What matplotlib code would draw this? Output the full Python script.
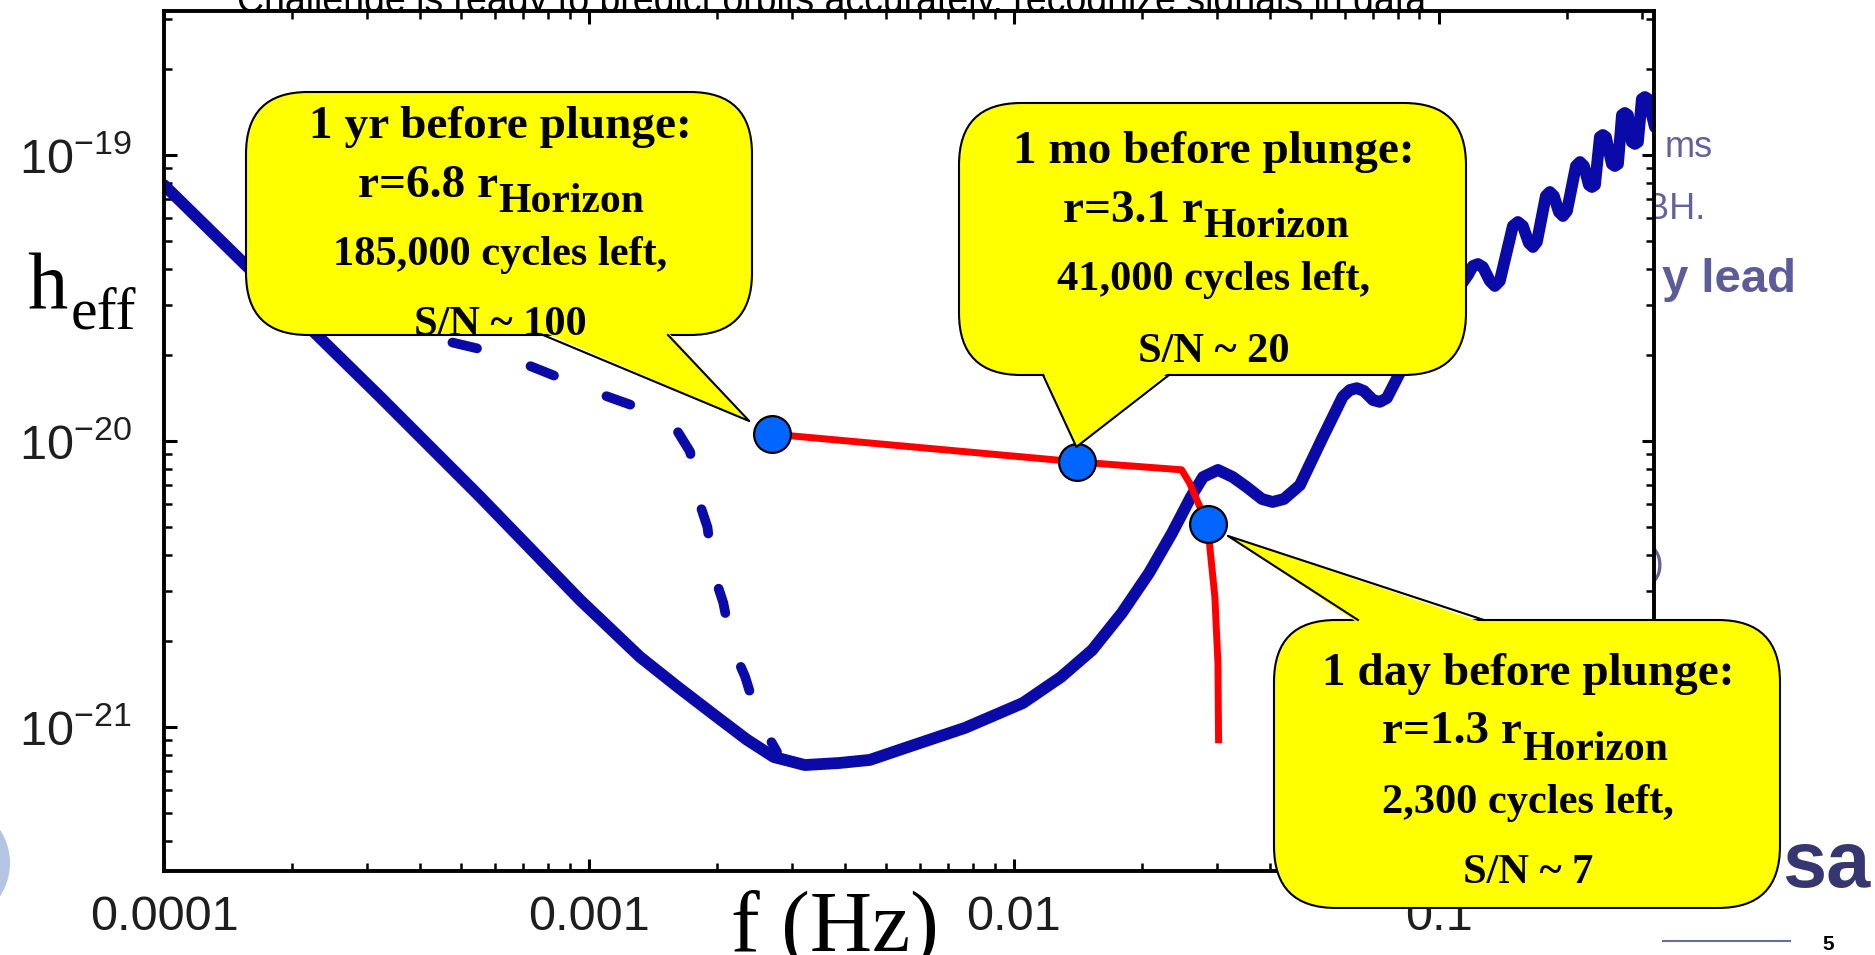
import matplotlib
matplotlib.use("Agg")
import matplotlib.pyplot as plt
from matplotlib.patches import FancyBboxPatch, Polygon, Ellipse
from matplotlib.ticker import NullFormatter

plt.rcParams['font.family'] = 'Liberation Sans'
plt.rcParams['mathtext.fontset'] = 'custom'
plt.rcParams['mathtext.rm'] = 'Liberation Sans'
plt.rcParams['mathtext.it'] = 'Liberation Sans:italic'
plt.rcParams['mathtext.bf'] = 'Liberation Sans:bold'

# LISA sensitivity curve (solid)
noise_f = [1.00e-4, 3.22e-4, 5.55e-4, 9.53e-4, 1.318e-3, 1.618e-3, 2.000e-3, 2.355e-3,
           2.723e-3, 3.221e-3, 3.873e-3, 4.581e-3, 5.632e-3, 7.674e-3, 1.050e-2, 1.291e-2,
           1.528e-2, 1.795e-2, 2.078e-2, 2.355e-2, 2.608e-2, 2.786e-2, 3.020e-2, 3.273e-2,
           3.53e-2, 3.833e-2, 4.06e-2, 4.318e-2, 4.71e-2, 5.33e-2, 5.94e-2, 6.174e-2,
           6.41e-2, 6.660e-2, 6.993e-2, 7.26e-2, 7.543e-2, 8.09e-2,
           0.1170, 0.1202, 0.1235, 0.1269, 0.1318, 0.1354, 0.1391, 0.1493, 0.1534, 0.1576,
           0.1628, 0.1664, 0.1700, 0.1785, 0.1824, 0.1864, 0.1916, 0.1958, 0.2001, 0.2101,
           0.2147, 0.2194, 0.2254, 0.2291, 0.2329, 0.2392, 0.2431, 0.2471, 0.2553, 0.2594,
           0.2638, 0.2696, 0.2739, 0.2784, 0.2845, 0.2892, 0.2939, 0.3003, 0.3053, 0.3103,
           0.3223]
noise_h = [7.85e-20, 1.43e-20, 6.37e-21, 2.78e-21, 1.758e-21, 1.380e-21, 1.084e-21, 9.02e-22,
           7.85e-22, 7.36e-22, 7.48e-22, 7.67e-22, 8.51e-22, 9.93e-22, 1.213e-21, 1.496e-21,
           1.858e-21, 2.505e-21, 3.451e-21, 4.764e-21, 6.37e-21, 7.48e-21, 7.92e-21, 7.48e-21,
           6.90e-21, 6.268e-21, 6.12e-21, 6.268e-21, 7.01e-21, 1.03e-20, 1.43e-20, 1.508e-20,
           1.53e-20, 1.496e-20, 1.391e-20, 1.37e-20, 1.413e-20, 1.73e-20,
           3.805e-20, 4.091e-20, 4.157e-20, 4.058e-20, 3.627e-20, 3.483e-20, 3.627e-20,
           5.645e-20, 5.831e-20, 5.645e-20, 4.924e-20, 4.768e-20, 4.964e-20, 7.190e-20,
           7.425e-20, 7.190e-20, 6.319e-20, 6.119e-20, 6.370e-20, 9.152e-20, 9.452e-20,
           9.152e-20, 7.854e-20, 7.728e-20, 7.854e-20, 1.156e-19, 1.175e-19, 1.156e-19,
           9.301e-20, 9.152e-20, 9.301e-20, 1.380e-19, 1.403e-19, 1.380e-19, 1.110e-19,
           1.093e-19, 1.110e-19, 1.570e-19, 1.595e-19, 1.570e-19, 1.253e-19]

# dashed curve
dash_f = [4.00e-4, 4.53e-4, 5.44e-4, 7.00e-4, 8.22e-4, 1.05e-3, 1.25e-3, 1.58e-3, 1.73e-3,
          1.80e-3, 1.90e-3, 1.96e-3, 2.07e-3, 2.17e-3, 2.33e-3, 2.50e-3, 2.77e-3]
dash_h = [2.31e-20, 2.25e-20, 2.11e-20, 1.87e-20, 1.70e-20, 1.47e-20, 1.34e-20, 1.14e-20,
          9.16e-21, 6.37e-21, 5.00e-21, 3.48e-21, 2.72e-21, 1.91e-21, 1.50e-21, 1.07e-21,
          8.18e-22]

# inspiral track (red)
track_f = [2.70e-3, 1.41e-2, 2.48e-2, 2.59e-2, 2.74e-2, 2.86e-2, 2.89e-2, 2.97e-2, 3.02e-2, 3.03e-2]
track_h = [1.057e-20, 8.45e-21, 7.93e-21, 7.13e-21, 5.87e-21, 5.13e-21, 4.26e-21, 2.85e-21,
           1.67e-21, 9.02e-22]

# markers: 1 yr, 1 mo, 1 day before plunge
marker_f = [2.70e-3, 1.41e-2, 2.86e-2]
marker_h = [1.057e-20, 8.45e-21, 5.13e-21]

callout_title = ["1 yr before plunge:", "1 mo before plunge:", "1 day before plunge:"]
callout_r = ["r=6.8 r", "r=3.1 r", "r=1.3 r"]
callout_cycles = ["185,000 cycles left,", "41,000 cycles left,", "2,300 cycles left,"]
callout_sn = ["S/N ~ 100", "S/N ~ 20", "S/N ~ 7"]

xtick_vals = [1e-4, 1e-3, 1e-2, 1e-1]
xtick_labels = ["0.0001", "0.001", "0.01", "0.1"]
ytick_vals = [1e-21, 1e-20, 1e-19]
ytick_labels = [r"$10^{-21}$", r"$10^{-20}$", r"$10^{-19}$"]

W, H = 1875, 955
fig = plt.figure(figsize=(W / 100, H / 100), dpi=100)

# slide fragments behind the chart image
bg = fig.add_axes([0, 0, 1, 1], zorder=-1)
bg.set_xlim(0, W)
bg.set_ylim(H, 0)
bg.axis('off')
bg.text(237, 12, "Challenge is ready to predict orbits accurately, recognize signals in data",
        fontsize=27, va='baseline', color='black')
bg.text(1665, 157, "ms", fontsize=26, color='#62629e', va='baseline')
bg.text(1645, 219, "BH.", fontsize=26, color='#62629e', va='baseline')
bg.text(1662, 292, "y lead", fontsize=34, color='#5c5c9a', weight='bold', va='baseline')
bg.text(1651, 575, ")", fontsize=28, color='#62629e', va='baseline')
bg.text(1782, 887, "sa", fontsize=57, color='#363670', weight='bold', va='baseline')
bg.plot([1663, 1790], [941, 941], color='#6a6aa4', lw=1.5)
bg.text(1822, 950, "5", fontsize=15, weight='bold', va='baseline')
bg.add_patch(Ellipse((-55, 863), 130, 125, fc='#b4c4e2', ec='none'))

# main chart
ax = fig.add_axes([164 / W, (H - 871) / H, (1654 - 164) / W, (871 - 11) / H], zorder=0)
ax.set_xscale('log')
ax.set_yscale('log')
ax.set_xlim(1e-4, 0.3207)
ax.set_ylim(3.136e-22, 3.188e-19)

ax.plot(noise_f, noise_h, color='#0a0aa8', lw=8.5, solid_joinstyle='round',
        solid_capstyle='round', zorder=2)
ax.plot(dash_f, dash_h, color='#0a0aa8', lw=7, ls=(5.0, (2.6, 5.8)),
        dash_capstyle='round', zorder=2)
ax.plot(track_f, track_h, color='#ff0000', lw=5, solid_joinstyle='round', zorder=3)
ax.plot(marker_f, marker_h, 'o', ls='none', ms=26.5, mfc='#0066ff', mec='black',
        mew=1.6, zorder=4)

for s in ax.spines.values():
    s.set_linewidth(2.8)
ax.set_xticks(xtick_vals)
ax.set_xticklabels(xtick_labels)
ax.set_yticks(ytick_vals)
ax.set_yticklabels(ytick_labels)
ax.xaxis.set_minor_formatter(NullFormatter())
ax.yaxis.set_minor_formatter(NullFormatter())
ax.tick_params(which='major', direction='in', length=9, width=2.2, top=True, right=True,
               labelsize=35, labelcolor='#1e1e1e')
ax.tick_params(axis='x', which='major', pad=17)
ax.tick_params(axis='y', which='major', pad=23)
ax.tick_params(which='minor', direction='in', length=5.5, width=1.8, top=True, right=True)

# overlay in image pixel coordinates for callouts and axis titles
ov = fig.add_axes([0, 0, 1, 1], zorder=5)
ov.set_xlim(0, W)
ov.set_ylim(H, 0)
ov.axis('off')

ov.text(27, 308, "h", fontsize=58, family='Liberation Serif', va='baseline')
ov.text(71, 328, "eff", fontsize=43, family='Liberation Serif', va='baseline')
ov.text(731, 950, "f (Hz)", fontsize=62, family='Liberation Serif', va='baseline')

boxes = [(246, 92, 752, 335), (959, 103, 1466, 375), (1274, 620, 1780, 908)]
tails = [(543, 668, 335), (1043, 1169, 375), (1358, 1484, 620)]
tip_offsets = [(-23, -13), (-1, -15), (20, 12)]
baselines = [(138, 197, 212, 265, 335), (163, 222, 237, 290, 362), (685, 743, 760, 813, 883)]
r_join = [498, 1203, 1522]
serif = dict(family='Liberation Serif', weight='bold', color='black', va='baseline')

for i in range(3):
    x0, y0, x1, y1 = boxes[i]
    ov.add_patch(FancyBboxPatch((x0, y0), x1 - x0, y1 - y0,
                                boxstyle="round,pad=0,rounding_size=62",
                                fc='#ffff00', ec='black', lw=1.5, zorder=1))
    # tail points at the marker
    px, py = ax.transData.transform((marker_f[i], marker_h[i]))
    tx, ty = px + tip_offsets[i][0], (H - py) + tip_offsets[i][1]
    bx0, bx1, by = tails[i]
    inset = -3 if by == y1 else 3
    ov.add_patch(Polygon([(bx0, by + inset), (tx, ty), (bx1, by + inset)],
                         closed=True, fc='#ffff00', ec='none', zorder=2))
    ov.plot([bx0, tx, bx1], [by, ty, by], color='black', lw=1.5, zorder=3)

    cx = (x0 + x1) / 2
    b = baselines[i]
    ov.text(cx + 1, b[0], callout_title[i], fontsize=34, ha='center', zorder=4, **serif)
    ov.text(r_join[i], b[1], callout_r[i], fontsize=34, ha='right', zorder=4, **serif)
    ov.text(r_join[i], b[2], "Horizon", fontsize=30, ha='left', zorder=4, **serif)
    ov.text(cx + 1, b[3], callout_cycles[i], fontsize=30.5, ha='center', zorder=4, **serif)
    ov.text(cx + 1, b[4], callout_sn[i], fontsize=30.5, ha='center', zorder=4, **serif)

fig.savefig("out.png", dpi=100)
